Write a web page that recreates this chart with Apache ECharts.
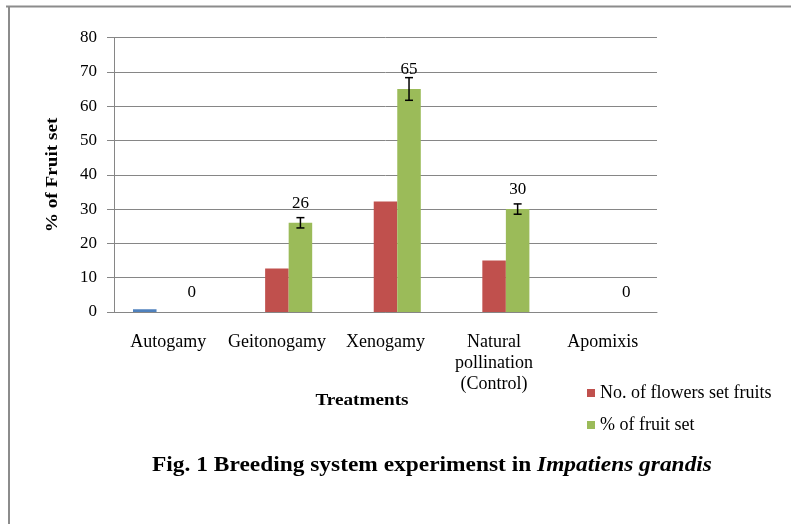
<!DOCTYPE html>
<html><head><meta charset="utf-8">
<script src="https://cdn.jsdelivr.net/npm/echarts@6/dist/echarts.min.js"></script>
<style>html,body{margin:0;padding:0;background:#fff}#c{width:791px;height:524px}</style>
</head><body><div id="c"></div>
<script>
const categories = ['Autogamy', 'Geitonogamy', 'Xenogamy', 'Natural\npollination\n(Control)', 'Apomixis'];
const blueValues = [0.8, null, null, null, null];
const flowersSetFruits = [null, 12.7, 32.2, 15.0, null];
const pctFruitSet = [0, 26, 65, 30, 0];
const pctError = [0, 1.5, 3.3, 1.5, 0];
const yTicks = {min: 0, max: 80, interval: 10};

const FONT = '"Liberation Serif", "Times New Roman", serif';
const chart = echarts.init(document.getElementById('c'));
const errData = pctFruitSet.map((v, i) => [i, v, pctError[i]]);

chart.setOption({
  animation: false,
  textStyle: {fontFamily: FONT},
  grid: {left: 114, right: 134, top: 37.5, bottom: 212, containLabel: false},
  legend: {
    orient: 'vertical', left: 582, top: 379,
    itemWidth: 8, itemHeight: 8, itemGap: 14,
    data: ['No. of flowers set fruits', '% of fruit set'],
    textStyle: {fontFamily: FONT, fontSize: 18, color: '#000'},
    icon: 'rect'
  },
  xAxis: {
    type: 'category', data: categories,
    axisLine: {lineStyle: {color: '#868686'}},
    axisTick: {show: false},
    axisLabel: {fontFamily: FONT, fontSize: 18, color: '#000', margin: 19.5, lineHeight: 21, interval: 0}
  },
  yAxis: {
    type: 'value', min: yTicks.min, max: yTicks.max, interval: yTicks.interval,
    axisLine: {show: true, lineStyle: {color: '#868686'}},
    axisTick: {show: true, length: 7, lineStyle: {color: '#868686'}},
    splitLine: {lineStyle: {color: '#868686'}},
    axisLabel: {fontFamily: FONT, fontSize: 17, color: '#000', margin: 17}
  },
  series: [
    {name: 'blue', type: 'bar', data: blueValues, barGap: '0%', barCategoryGap: '35%',
     itemStyle: {color: '#4F81BD'}},
    {name: 'No. of flowers set fruits', type: 'bar', data: flowersSetFruits, barGap: '0%', barCategoryGap: '35%',
     itemStyle: {color: '#C0504D'}},
    {name: '% of fruit set', type: 'bar', data: pctFruitSet, barGap: '0%', barCategoryGap: '35%',
     itemStyle: {color: '#9BBB59'},
     label: {show: true, position: 'top', distance: 11, fontFamily: FONT, fontSize: 17, color: '#000'}},
    {name: 'err', type: 'custom', data: errData, z: 10,
     renderItem: function (params, api) {
       const i = api.value(0), v = api.value(1), e = api.value(2);
       if (!e) return null;
       const band = api.size([1, 0])[0];
       const off = band * 0.65 / 3;
       const top = api.coord([i, v + e]);
       const bot = api.coord([i, v - e]);
       const x = top[0] + off;
       const hw = 4;
       const st = {stroke: '#000', lineWidth: 1.5};
       return {type: 'group', children: [
         {type: 'line', shape: {x1: x, y1: top[1], x2: x, y2: bot[1]}, style: st},
         {type: 'line', shape: {x1: x - hw, y1: top[1], x2: x + hw, y2: top[1]}, style: st},
         {type: 'line', shape: {x1: x - hw, y1: bot[1], x2: x + hw, y2: bot[1]}, style: st}
       ]};
     }}
  ],
  graphic: [
    {type: 'line', shape: {x1: 6, y1: 6.5, x2: 791, y2: 6.5}, style: {stroke: '#8c8c8c', lineWidth: 2}},
    {type: 'line', shape: {x1: 9, y1: 6, x2: 9, y2: 524}, style: {stroke: '#8c8c8c', lineWidth: 2}},
    {type: 'text', x: 53, y: 175, rotation: Math.PI / 2, scaleX: 1.13,
     style: {text: '% of Fruit set', font: 'bold 17px ' + FONT, fill: '#000', align: 'center', verticalAlign: 'middle'}},
    {type: 'text', x: 362, y: 401, scaleX: 1.13,
     style: {text: 'Treatments', font: 'bold 17px ' + FONT, fill: '#000', align: 'center', verticalAlign: 'middle'}},
    {type: 'text', x: 432, y: 466, scaleX: 1.17,
     style: {text: '{b|Fig. 1 Breeding system experimenst in }{i|Impatiens grandis}',
       align: 'center', verticalAlign: 'middle',
       rich: {b: {font: 'bold 20px ' + FONT, fill: '#000'}, i: {font: 'italic bold 20px ' + FONT, fill: '#000'}}}}
  ]
});
</script></body></html>
